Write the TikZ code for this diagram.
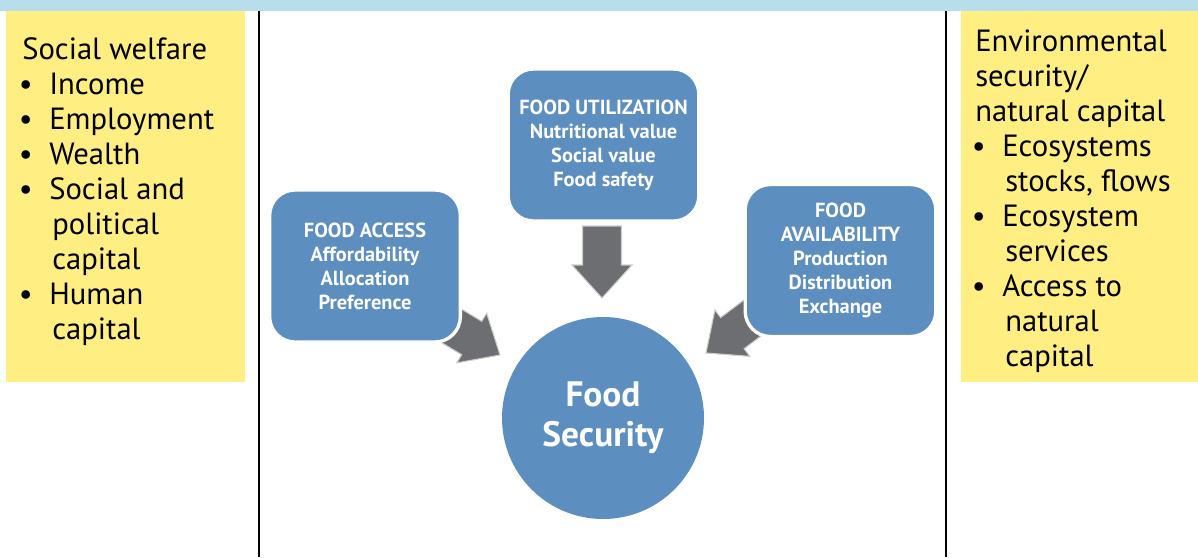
\documentclass[tikz,border=0pt]{standalone}
\usepackage{fontspec}
\setmainfont{PT Sans}
\definecolor{band}{RGB}{184,222,236}
\definecolor{yel}{RGB}{255,238,130}
\definecolor{fblue}{RGB}{92,142,192}
\definecolor{agray}{RGB}{109,110,113}
\newcommand{\bitem}[1]{\makebox[20.25pt][l]{\hspace{-2.5pt}•}#1}
\newcommand{\cont}[1]{\hspace*{22.5pt}#1}
\tikzset{
  fbox/.style={rounded corners=19pt, fill=fblue, draw=white, line width=2.5pt,
    minimum width=143pt, minimum height=114pt, text=white, align=center,
    font=\bfseries\fontsize{15.3}{18}\selectfont, inner sep=0pt},
  ybox/.style={fill=yel, draw=none},
  ytext/.style={anchor=north west, align=left, inner sep=0pt, text=black,
    font=\fontsize{23}{26.25}\selectfont},
  barrow/.style={fill=agray, draw=black!20, line width=0.8pt},
  vline/.style={draw=black, line width=1.1pt}
}
\begin{document}
\begin{tikzpicture}[x=0.75pt,y=-0.75pt]
\useasboundingbox (0,0) rectangle (1198,557);
\fill[band] (0,0) rectangle (1198,11);
% yellow side boxes
\fill[ybox] (6,11) rectangle (245,382);
\fill[ybox] (961,11) rectangle (1198,382);
% vertical dividers
\coordinate (l1) at (259,11); \coordinate (l2) at (259,557);
\coordinate (r1) at (946,11); \coordinate (r2) at (946,557);
\draw[vline] (l1) -- (l2);
\draw[vline] (r1) -- (r2);
% side texts
\node[ytext] (sw) at (22,37) {Social welfare\\
\bitem{Income}\\
\bitem{Employment}\\
\bitem{Wealth}\\
\bitem{Social and}\\
\cont{political}\\
\cont{capital}\\
\bitem{Human}\\
\cont{capital}};
\node[ytext] (env) at (975,30) {Environmental\\
security/\\
natural capital\\
\bitem{Ecosystems}\\
\cont{stocks, flows}\\
\bitem{Ecosystem}\\
\cont{services}\\
\bitem{Access to}\\
\cont{natural}\\
\cont{capital}};
% block arrows (drawn before boxes)
\begin{scope}[shift={(602,298)}, rotate=-90]
\draw[barrow] (0,0) -- (-33,30) -- (-33,19.5) -- (-72,19.5) -- (-72,-19.5) -- (-33,-19.5) -- (-33,-30) -- cycle;
\end{scope}
\begin{scope}[shift={(500,355)}, rotate=-31]
\draw[barrow] (0,0) -- (-33,29) -- (-33,19.5) -- (-80,19.5) -- (-80,-19.5) -- (-33,-19.5) -- (-33,-29) -- cycle;
\end{scope}
\begin{scope}[shift={(706,353)}, rotate=-143]
\draw[barrow] (0,0) -- (-33,29) -- (-33,19.5) -- (-80,19.5) -- (-80,-19.5) -- (-33,-19.5) -- (-33,-29) -- cycle;
\end{scope}
% blue boxes
\node[fbox] (util) at (603.5,145) {FOOD UTILIZATION\\Nutritional value\\Social value\\Food safety};
\node[fbox] (acc) at (365,266) {FOOD ACCESS\\Affordability\\Allocation\\Preference};
\node[fbox] (avail) at (840.5,260.5) {FOOD\\AVAILABILITY\\Production\\Distribution\\Exchange};
\node[circle, fill=fblue, minimum size=151.5pt, inner sep=0pt, text=white, align=center,
  font=\bfseries\fontsize{26.5}{30}\selectfont] (fs) at (603,418) {Food\\Security};
\end{tikzpicture}
\end{document}
